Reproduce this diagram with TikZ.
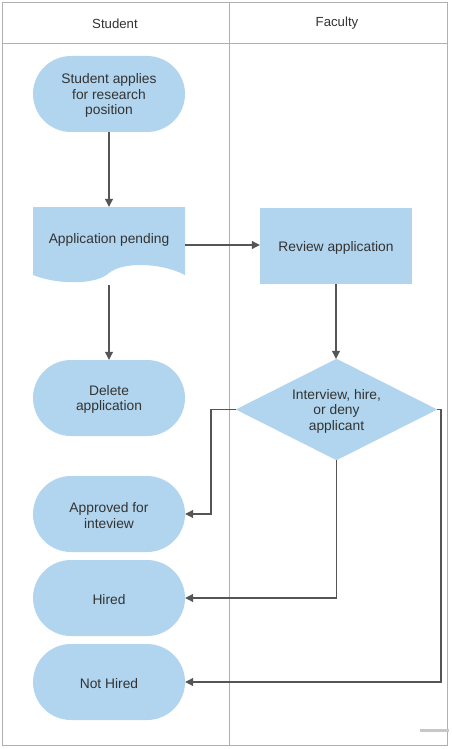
\documentclass[tikz,border=0pt]{standalone}
\usepackage{fontspec}
\setmainfont{Liberation Sans}
\usetikzlibrary{arrows.meta,shapes.geometric}
\definecolor{boxblue}{HTML}{B1D5EE}
\definecolor{linegray}{HTML}{555555}
\definecolor{framegray}{HTML}{B0B0B0}
\definecolor{textgray}{HTML}{333333}
\tikzset{
  txt/.style={text=textgray, font=\fontsize{13.8}{15.5}\selectfont, align=center},
  term/.style={txt, rectangle, rounded corners=38pt, fill=boxblue, minimum width=152pt, minimum height=76pt, inner sep=0pt, text depth=0pt},
  proc/.style={txt, rectangle, fill=boxblue, minimum width=152pt, minimum height=76pt, inner sep=0pt},
  lbl/.style={txt, yshift=-1.5pt},
  conn/.style={draw=linegray, line width=1.1pt, -{Triangle[length=8pt,width=8pt]}},
  frame/.style={draw=framegray, line width=0.9pt}
}
\begin{document}
\begin{tikzpicture}[x=1pt,y=-1pt]
\useasboundingbox (0,0) rectangle (451,749);
\fill[white] (0,0) rectangle (451,749);
% swimlanes
\draw[frame] (2,2) rectangle (447,745);
\draw[frame] (2,43) -- (447,43);
\draw[frame] (229,2) -- (229,745);
\node[lbl, font=\fontsize{13.2}{15}\selectfont] (hs) at (115,22) {Student};
\node[lbl, font=\fontsize{13.2}{15}\selectfont] (hf) at (337,22) {Faculty};
% nodes
\node[term] (start) at (109,94) {};
\node[lbl] (startt) at (start.center) {Student applies\\for research\\position};
\node[minimum width=152pt, minimum height=76pt, inner sep=0pt] (pend) at (109,245) {};
\fill[boxblue] (33,207) -- (185,207) -- (185,275)
  .. controls (160,262) and (122,262) .. (109,273)
  .. controls (96,285) and (58,285) .. (33,275) -- cycle;
\node[lbl] (pendt) at (109,238) {Application pending};
\node[proc] (rev) at (336,246) {};
\node[lbl] (revt) at (rev.center) {Review application};
\node[minimum width=201pt, minimum height=101pt, inner sep=0pt] (dec) at (336.5,409.5) {};
\fill[boxblue] (dec.north) -- (dec.east) -- (dec.south) -- (dec.west) -- cycle;
\node[lbl] (dect) at (336.5,409.5) {Interview, hire,\\or deny\\applicant};
\node[term] (del) at (109,398) {};
\node[lbl] (delt) at (del.center) {Delete\\application};
\node[term] (appr) at (109,514) {};
\node[lbl] (apprt) at (appr.center) {Approved for\\inteview};
\node[term] (hired) at (109,598) {};
\node[lbl] (hiredt) at (hired.center) {Hired};
\node[term] (nothired) at (109,682) {};
\node[lbl] (nothiredt) at (nothired.center) {Not Hired};
% connectors
\coordinate (pendb) at (109,285);
\draw[conn] (start.south) -- (pend.north);
\draw[conn] (pend.east) -- (pend.east -| rev.west);
\draw[conn] (rev.south) -- (rev.south |- dec.north);
\draw[conn] (pendb) -- (del.north);
\draw[conn] (dec.west) -- (211,409.5) |- (appr.east);
\draw[conn] (dec.south) |- (hired.east);
\draw[conn] (dec.east) -- (441,409.5) |- (nothired.east);
% scrollbar remnant
\draw[draw=black!22, line width=3pt] (420,730) -- (449,730);
\end{tikzpicture}
\end{document}
